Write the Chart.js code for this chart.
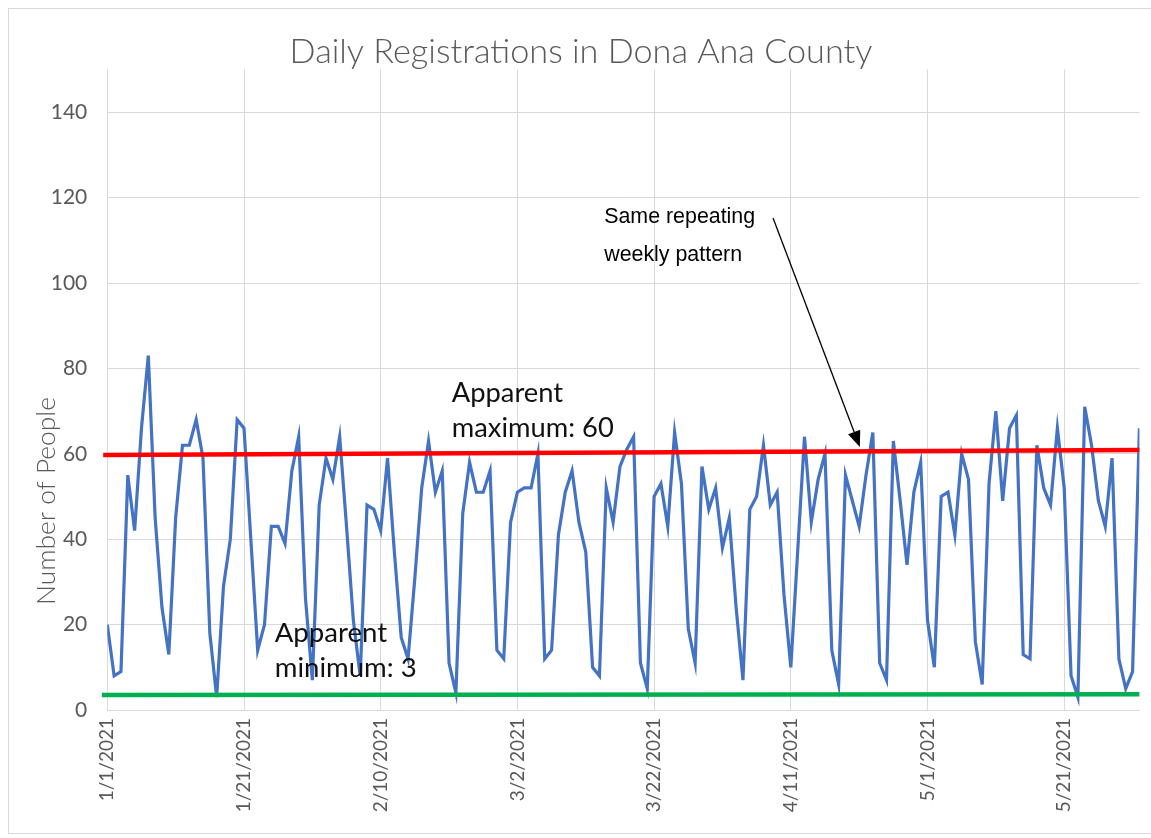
<!DOCTYPE html>
<html>
<head>
<meta charset="utf-8">
<script src="https://cdn.jsdelivr.net/npm/chart.js@4.4.1/dist/chart.umd.min.js"></script>
<style>
  html, body { margin: 0; padding: 0; background: #fff; }
  canvas { display: block; }
</style>
</head>
<body>
<canvas id="chart" width="1151" height="838"></canvas>
<script>
// daily registrations, 1/1/2021 .. 6/1/2021 (one value per day)
const registrations = [
  20, 8, 9, 55, 42, 66, 83, 45, 24, 13,
  45, 62, 62, 68, 59, 18, 3, 29, 40, 68,
  66, 40, 14, 20, 43, 43, 39, 56, 64, 26,
  7, 48, 59, 54, 64, 43, 21, 8, 48, 47,
  42, 59, 37, 17, 12, 31, 52, 63, 51, 56,
  11, 4, 46, 58, 51, 51, 56, 14, 12, 44,
  51, 52, 52, 60, 12, 14, 41, 51, 56, 44,
  37, 10, 8, 52, 44, 57, 61, 64, 11, 5,
  50, 53, 43, 65, 53, 19, 11, 57, 47, 52,
  38, 45, 24, 7, 47, 50, 62, 48, 51, 27,
  10, 37, 64, 44, 54, 60, 14, 6, 55, 49,
  43, 55, 65, 11, 7, 63, 49, 34, 51, 58,
  21, 10, 50, 51, 41, 60, 54, 16, 6, 53,
  70, 49, 66, 69, 13, 12, 62, 52, 48, 66,
  52, 8, 3, 71, 62, 49, 43, 59, 12, 5,
  9, 66
];

// hand drawn guide lines (start / end value)
const maxLine = [59.7, 60.9];
const minLine = [3.5, 3.7];

const tickLabels = ['1/1/2021', '1/21/2021', '2/10/2021', '3/2/2021',
                    '3/22/2021', '4/11/2021', '5/1/2021', '5/21/2021'];
const yTicks = [0, 20, 40, 60, 80, 100, 120, 140];

const lastDay = registrations.length - 1;

// text boxes, anchored in data units (day, value)
const notes = [
  { lines: ['Apparent', 'maximum: 60'], day: 50.4, values: [72.1, 63.9], width: 162, family: 'Lato', color: '#111' },
  { lines: ['Apparent', 'minimum: 3'], day: 24.5, values: [15.9, 7.7], width: 142, family: 'Lato', color: '#111' },
  { lines: ['Same repeating', 'weekly pattern'], day: 72.7, values: [114.1, 105.2], width: 151, family: '"Liberation Sans", Arial', color: '#000' }
];
const arrow = { from: [97.4, 115.2], to: [110.1, 61.6] };

function fitSize(ctx, text, family, target, weight) {
  ctx.font = (weight || '') + ' 100px ' + family;
  return 100 * target / ctx.measureText(text).width;
}

const decor = {
  id: 'decor',
  beforeDraw(chart) {
    const ctx = chart.ctx;
    ctx.save();
    ctx.fillStyle = '#fff';
    ctx.fillRect(0, 0, chart.width, chart.height);
    ctx.strokeStyle = '#d9d9d9';
    ctx.lineWidth = 1;
    ctx.strokeRect(8.5, 8.5, chart.width + 20, chart.height - 13);
    ctx.restore();
  },
  afterDraw(chart) {
    const ctx = chart.ctx;
    const xs = chart.scales.x, ys = chart.scales.y;
    ctx.save();

    // title
    const title = 'Daily Registrations in Dona Ana County';
    let size = fitSize(ctx, title, 'Lato', 583, '300');
    ctx.font = '300 ' + size + 'px Lato';
    ctx.fillStyle = '#595959';
    ctx.textAlign = 'center';
    ctx.textBaseline = 'middle';
    ctx.fillText(title, 581, 52);

    // y axis title
    const yTitle = 'Number of People';
    size = fitSize(ctx, yTitle, 'Lato', 208, '300');
    ctx.save();
    ctx.translate(46, 501);
    ctx.rotate(-Math.PI / 2);
    ctx.font = '300 ' + size + 'px Lato';
    ctx.fillText(yTitle, 0, 0);
    ctx.restore();

    // text notes
    ctx.textAlign = 'left';
    ctx.textBaseline = 'alphabetic';
    notes.forEach(n => {
      const longest = n.lines.reduce((a, b) => b.length > a.length ? b : a);
      const s = fitSize(ctx, longest, n.family, n.width);
      ctx.font = s + 'px ' + n.family;
      ctx.fillStyle = n.color;
      n.lines.forEach((line, i) => {
        ctx.fillText(line, xs.getPixelForValue(n.day), ys.getPixelForValue(n.values[i]));
      });
    });

    // arrow
    const x1 = xs.getPixelForValue(arrow.from[0]), y1 = ys.getPixelForValue(arrow.from[1]);
    const x2 = xs.getPixelForValue(arrow.to[0]), y2 = ys.getPixelForValue(arrow.to[1]);
    const ang = Math.atan2(y2 - y1, x2 - x1);
    const headLen = 16, headHalf = 6.5;
    const bx = x2 - headLen * Math.cos(ang), by = y2 - headLen * Math.sin(ang);
    ctx.strokeStyle = '#000';
    ctx.lineWidth = 1.3;
    ctx.beginPath();
    ctx.moveTo(x1, y1);
    ctx.lineTo(bx, by);
    ctx.stroke();
    ctx.fillStyle = '#000';
    ctx.beginPath();
    ctx.moveTo(x2, y2);
    ctx.lineTo(bx + headHalf * Math.sin(ang), by - headHalf * Math.cos(ang));
    ctx.lineTo(bx - headHalf * Math.sin(ang), by + headHalf * Math.cos(ang));
    ctx.closePath();
    ctx.fill();

    ctx.restore();
  }
};

new Chart(document.getElementById('chart'), {
  type: 'line',
  data: {
    datasets: [
      {
        label: 'Registrations',
        data: registrations.map((v, i) => ({ x: i, y: v })),
        borderColor: '#4472C4',
        borderWidth: 3.2,
        pointRadius: 0,
        tension: 0,
        order: 2
      },
      {
        label: 'Apparent maximum',
        data: [{ x: -0.6, y: maxLine[0] }, { x: lastDay, y: maxLine[1] }],
        borderColor: '#FF0000',
        borderWidth: 4.5,
        pointRadius: 0,
        clip: 8,
        order: 1
      },
      {
        label: 'Apparent minimum',
        data: [{ x: -0.8, y: minLine[0] }, { x: lastDay, y: minLine[1] }],
        borderColor: '#00B050',
        borderWidth: 4.5,
        pointRadius: 0,
        clip: 8,
        order: 1
      }
    ]
  },
  options: {
    responsive: false,
    animation: false,
    events: [],
    layout: { padding: { left: 0, right: 11.6, top: 69.5, bottom: 0 } },
    plugins: {
      legend: { display: false },
      title: { display: false },
      tooltip: { enabled: false }
    },
    scales: {
      x: {
        type: 'linear',
        min: 0,
        max: lastDay,
        afterBuildTicks: s => { s.ticks = s.ticks.filter(t => t.value % 20 === 0 && t.value / 20 < tickLabels.length); },
        afterFit: s => { s.height = 128; },
        grid: { color: '#d9d9d9', lineWidth: 1, drawTicks: false },
        border: { color: '#d9d9d9' },
        ticks: {
          stepSize: 20,
          autoSkip: false,
          maxRotation: 90,
          minRotation: 90,
          padding: 8,
          color: '#595959',
          font: { family: 'Lato', size: 19 },
          callback: v => tickLabels[v / 20]
        }
      },
      y: {
        min: 0,
        max: 150,
        afterBuildTicks: s => { s.ticks = yTicks.map(v => ({ value: v })); },
        afterFit: s => { s.width = 107.3; },
        grid: { color: '#d9d9d9', lineWidth: 1, drawTicks: false },
        border: { display: false },
        ticks: {
          padding: 20,
          color: '#595959',
          font: { family: 'Lato', size: 21 }
        }
      }
    }
  },
  plugins: [decor]
});
</script>
</body>
</html>
